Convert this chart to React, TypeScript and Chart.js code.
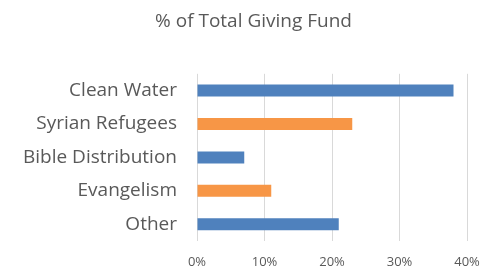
import React, { useEffect, useRef } from "react";
import { Chart, registerables } from "chart.js";

Chart.register(...registerables);

const categories = ["Clean Water", "Syrian Refugees", "Bible Distribution", "Evangelism", "Other"];
const values = [38, 23, 7, 11, 21];
const barColors = ["#4F81BD", "#F79646", "#4F81BD", "#F79646", "#4F81BD"];
const xTicks = [0, 10, 20, 30, 40];
const titleText = "% of Total Giving Fund";

const titleShift = {
  id: "titleShift",
  afterLayout(chart: any) {
    const t = chart.titleBlock;
    if (t) {
      t.left = 12;
      t.right = 495;
      t.width = 483;
    }
  },
};

export default function App() {
  const ref = useRef<HTMLCanvasElement | null>(null);
  useEffect(() => {
    if (!ref.current) return;
    const chart = new Chart(ref.current, {
      type: "bar",
      data: {
        labels: categories,
        datasets: [
          {
            data: values,
            backgroundColor: barColors,
            borderWidth: 0,
            barPercentage: 0.72,
            categoryPercentage: 0.5,
          },
        ],
      },
      plugins: [titleShift],
      options: {
        indexAxis: "y",
        animation: false,
        responsive: false,
        maintainAspectRatio: false,
        layout: { padding: { left: 0, right: 28, top: 0, bottom: 0 } },
        plugins: {
          legend: { display: false },
          tooltip: { enabled: false },
          title: {
            display: true,
            text: titleText,
            color: "#595959",
            font: { family: "'Open Sans'", size: 19, weight: "normal" },
            padding: { top: 10, bottom: 41 },
          },
        },
        scales: {
          x: {
            min: xTicks[0],
            max: xTicks[xTicks.length - 1],
            afterBuildTicks: (s: any) => {
              s.ticks = xTicks.map((v) => ({ value: v }));
            },
            ticks: {
              callback: (v: any) => v + "%",
              color: "#595959",
              font: { family: "'Open Sans'", size: 13 },
              padding: 13,
              maxRotation: 0,
            },
            grid: { color: "#D9D9D9", drawTicks: false, lineWidth: 1 },
            border: { display: false },
            afterFit: (s: any) => {
              s.height = 26;
            },
          },
          y: {
            ticks: {
              color: "#595959",
              font: { family: "'Open Sans'", size: 19 },
              padding: 20,
            },
            grid: { display: false, drawTicks: false },
            border: { display: false },
            afterFit: (s: any) => {
              s.width = 197;
              s.paddingTop = 0;
              s.paddingBottom = 0;
            },
          },
        },
      },
    });
    return () => chart.destroy();
  }, []);
  return (
    <div style={{ position: "fixed", left: 0, top: 0, width: 495, height: 267, background: "#fff" }}>
      <canvas ref={ref} width={495} height={267} style={{ width: 495, height: 267 }} />
    </div>
  );
}
